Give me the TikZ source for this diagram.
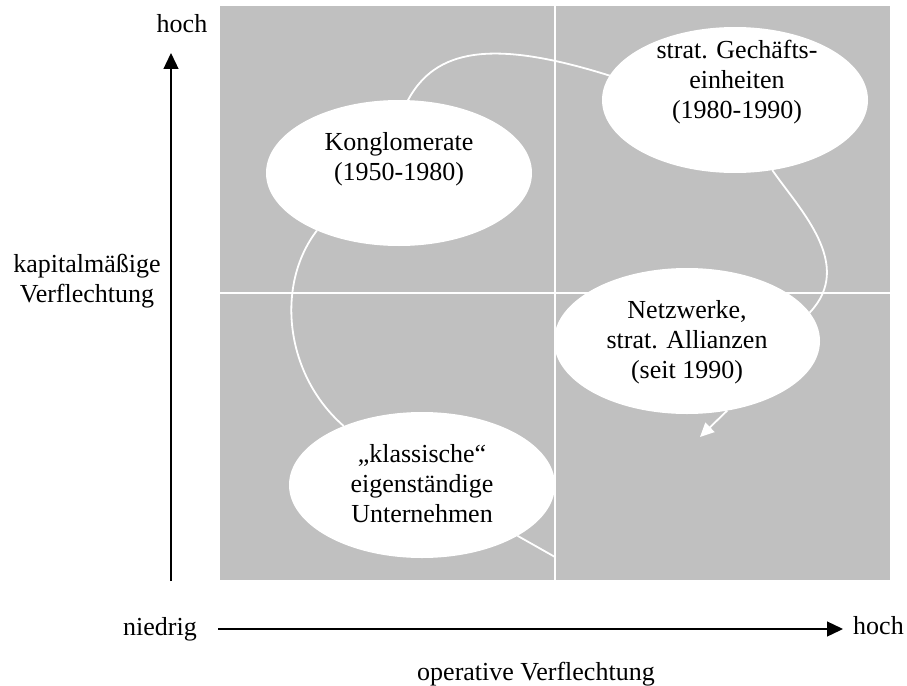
\documentclass[tikz,border=0pt]{standalone}
\usepackage{fontspec}
\setmainfont{Liberation Serif}
\usetikzlibrary{shapes.geometric,arrows.meta}
\definecolor{quad}{RGB}{192,192,192}
\pgfdeclarelayer{bg}
\pgfsetlayers{bg,main}
\begin{document}
\begin{tikzpicture}[x=1pt,y=-1pt,
  every node/.style={font=\fontsize{26}{30}\selectfont, inner sep=0pt},
  blob/.style={ellipse, fill=white, minimum width=266pt, minimum height=146pt, inner sep=0pt, outer sep=0pt},
  txt/.style={align=center},
  flow/.style={white, line width=1.8pt},
  axis/.style={black, line width=1.3pt, -{Triangle[length=16pt,width=15pt]}},
  divider/.style={white, line width=2pt}]
\useasboundingbox (0,0) rectangle (907,685);

% ellipses
\node[blob] (kong) at (399,173) {};
\node[blob] (strat) at (735,100) {};
\node[blob] (netz) at (687,341) {};
\node[blob] (klass) at (422,485) {};

% texts
\node[txt] (kongtxt) at (399,159) {Konglomerate\\(1950-1980)};
\node[txt] (strattxt) at (737,82) {strat. Gechäfts-\\einheiten\\(1980-1990)};
\node[txt] (netztxt) at (687,342) {Netzwerke,\\strat. Allianzen\\(seit 1990)};
\node[txt] (klasstxt) at (422,484) {„klassische“\\eigenständige\\Unternehmen};

% background: quadrants, dividers, flow curve
\coordinate (cstart) at (555,557);
\coordinate (cend) at (700,437);
\begin{pgfonlayer}{bg}
\fill[quad] (220,6) rectangle (890,580);
\draw[divider] (555,6) -- (555,580);
\draw[divider] (220,293) -- (890,293);
\draw[flow] (cstart) -- (klass.-28);
\draw[flow] (klass.143) .. controls (285,375) and (275,285) .. (kong.215);
\draw[flow] (kong.83) .. controls (435,50) and (490,38) .. (strat.169);
\draw[flow] (strat.-62) .. controls (800,210) and (855,265) .. (netz.13);
\end{pgfonlayer}
\draw[flow, -{Triangle[length=14pt,width=13pt]}] (netz.-60) -- (cend);

% axes
\coordinate (ybot) at (171,581);
\coordinate (ytop) at (171,53);
\coordinate (xleft) at (218,629);
\coordinate (xright) at (843,629);
\draw[axis] (ybot) -- (ytop);
\draw[axis] (xleft) -- (xright);

\node[anchor=base] (yhigh) at (182,33) {hoch};
\node[txt] (ylabel) at (87,281) {kapitalmäßige\\Verflechtung};
\node[anchor=base east] (xlow) at (197,635) {niedrig};
\node[anchor=base west] (xhigh) at (853,634) {hoch};
\node[anchor=base west] (xlabel) at (417,680) {operative Verflechtung};
\end{tikzpicture}
\end{document}
